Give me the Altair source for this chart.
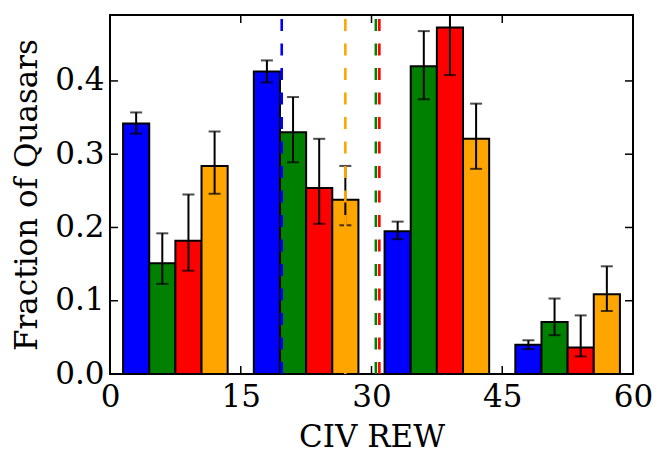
import altair as alt
import pandas as pd

# CIV REW bins (left edges) and the four samples
bin_starts = [0, 15, 30, 45]
series_names = ["blue", "green", "red", "orange"]
series_colors = ["#0000ff", "#008000", "#ff0000", "#ffa500"]

# Fraction of quasars per bin
frac_blue = [0.342, 0.413, 0.195, 0.040]
frac_green = [0.151, 0.330, 0.420, 0.071]
frac_red = [0.182, 0.254, 0.473, 0.036]
frac_orange = [0.284, 0.238, 0.321, 0.109]

# Lower / upper error limits
lo_blue = [0.328, 0.398, 0.184, 0.034]
hi_blue = [0.357, 0.428, 0.208, 0.046]
lo_green = [0.123, 0.289, 0.375, 0.053]
hi_green = [0.192, 0.378, 0.468, 0.103]
lo_red = [0.141, 0.205, 0.408, 0.024]
hi_red = [0.245, 0.321, 0.538, 0.080]
lo_orange = [0.246, 0.203, 0.280, 0.086]
hi_orange = [0.331, 0.284, 0.369, 0.147]

# Median CIV REW of each sample
medians = [19.7, 30.5, 30.9, 27.0]

x_ticks = [0, 15, 30, 45, 60]
y_ticks = [0.0, 0.1, 0.2, 0.3, 0.4]

# layout of the grouped bars inside each bin
BAR_PAD = 1.5
BAR_W = 3.0
W, H = 523, 359
FONT = "DejaVu Serif"
FS = 31
TICK_LEN = 8

fracs = [frac_blue, frac_green, frac_red, frac_orange]
los = [lo_blue, lo_green, lo_red, lo_orange]
his = [hi_blue, hi_green, hi_red, hi_orange]

rows = []
for i, name in enumerate(series_names):
    for b, v, lo, hi in zip(bin_starts, fracs[i], los[i], his[i]):
        x0 = b + BAR_PAD + i * BAR_W
        rows.append(dict(series=name, x0=x0, x1=x0 + BAR_W, xc=x0 + BAR_W / 2,
                         v=v, lo=lo, hi=hi, zero=0.0))
bars_df = pd.DataFrame(rows)
med_df = pd.DataFrame({"series": series_names, "m": medians})
xt_df = pd.DataFrame({"t": x_ticks})
yt_df = pd.DataFrame({"t": y_ticks})

x_scale = alt.Scale(domain=[0, 60], nice=False, zero=False)
y_scale = alt.Scale(domain=[0, 0.49], nice=False, zero=False)
x_axis = alt.Axis(values=x_ticks, title="CIV REW", ticks=False, domain=False, grid=False,
                  labelFont=FONT, labelFontSize=FS, labelColor="black", labelPadding=8,
                  labelFlush=False, labelOverlap=False,
                  titleFont=FONT, titleFontSize=FS, titleFontWeight="normal",
                  titleColor="black", titlePadding=10)
y_axis = alt.Axis(values=y_ticks, format=".1f", title="Fraction of Quasars", ticks=False,
                  domain=False, grid=False,
                  labelFont=FONT, labelFontSize=FS, labelColor="black", labelPadding=6,
                  labelFlush=False, labelOverlap=False,
                  titleFont=FONT, titleFontSize=FS, titleFontWeight="normal",
                  titleColor="black", titlePadding=11)
color = alt.Color("series:N", scale=alt.Scale(domain=series_names, range=series_colors),
                  legend=None)

base = alt.Chart(bars_df)

bars = base.mark_bar(stroke="black", strokeWidth=2, opacity=1).encode(
    x=alt.X("x0:Q", scale=x_scale, axis=x_axis),
    x2="x1:Q",
    y=alt.Y("v:Q", scale=y_scale, axis=y_axis),
    y2="zero:Q",
    color=color,
)

err = base.mark_rule(color="black", strokeWidth=2, clip=True).encode(
    x=alt.X("xc:Q", scale=x_scale, axis=x_axis),
    y=alt.Y("lo:Q", scale=y_scale, axis=y_axis),
    y2="hi:Q",
)
cap_lo = base.mark_tick(color="black", orient="horizontal", size=12, thickness=2,
                        clip=True).encode(
    x=alt.X("xc:Q", scale=x_scale, axis=x_axis),
    y=alt.Y("lo:Q", scale=y_scale, axis=y_axis),
)
cap_hi = base.mark_tick(color="black", orient="horizontal", size=12, thickness=2,
                        clip=True).encode(
    x=alt.X("xc:Q", scale=x_scale, axis=x_axis),
    y=alt.Y("hi:Q", scale=y_scale, axis=y_axis),
)

medlines = alt.Chart(med_df).mark_rule(strokeWidth=2.6, strokeDash=[12, 12.5]).encode(
    x=alt.X("m:Q", scale=x_scale, axis=x_axis),
    y=alt.value(H),
    y2=alt.value(0),
    color=color,
)

# inward ticks on all four sides
xt_bottom = alt.Chart(xt_df).mark_rule(color="black", strokeWidth=1.5).encode(
    x=alt.X("t:Q", scale=x_scale, axis=x_axis), y=alt.value(H), y2=alt.value(H - TICK_LEN))
xt_top = alt.Chart(xt_df).mark_rule(color="black", strokeWidth=1.5).encode(
    x=alt.X("t:Q", scale=x_scale, axis=x_axis), y=alt.value(0), y2=alt.value(TICK_LEN))
yt_left = alt.Chart(yt_df).mark_rule(color="black", strokeWidth=1.5).encode(
    y=alt.Y("t:Q", scale=y_scale, axis=y_axis), x=alt.value(0), x2=alt.value(TICK_LEN))
yt_right = alt.Chart(yt_df).mark_rule(color="black", strokeWidth=1.5).encode(
    y=alt.Y("t:Q", scale=y_scale, axis=y_axis), x=alt.value(W), x2=alt.value(W - TICK_LEN))

chart = alt.layer(
    bars, err, cap_lo, cap_hi, medlines, xt_bottom, xt_top, yt_left, yt_right
).properties(
    width=W, height=H,
    autosize=alt.AutoSizeParams(type="none"),
    padding={"left": 110, "top": 15, "right": 34, "bottom": 96},
    background="white",
).configure_view(stroke="black", strokeWidth=2)

chart.save("out.html", embed_options={"renderer": "svg", "actions": False})
